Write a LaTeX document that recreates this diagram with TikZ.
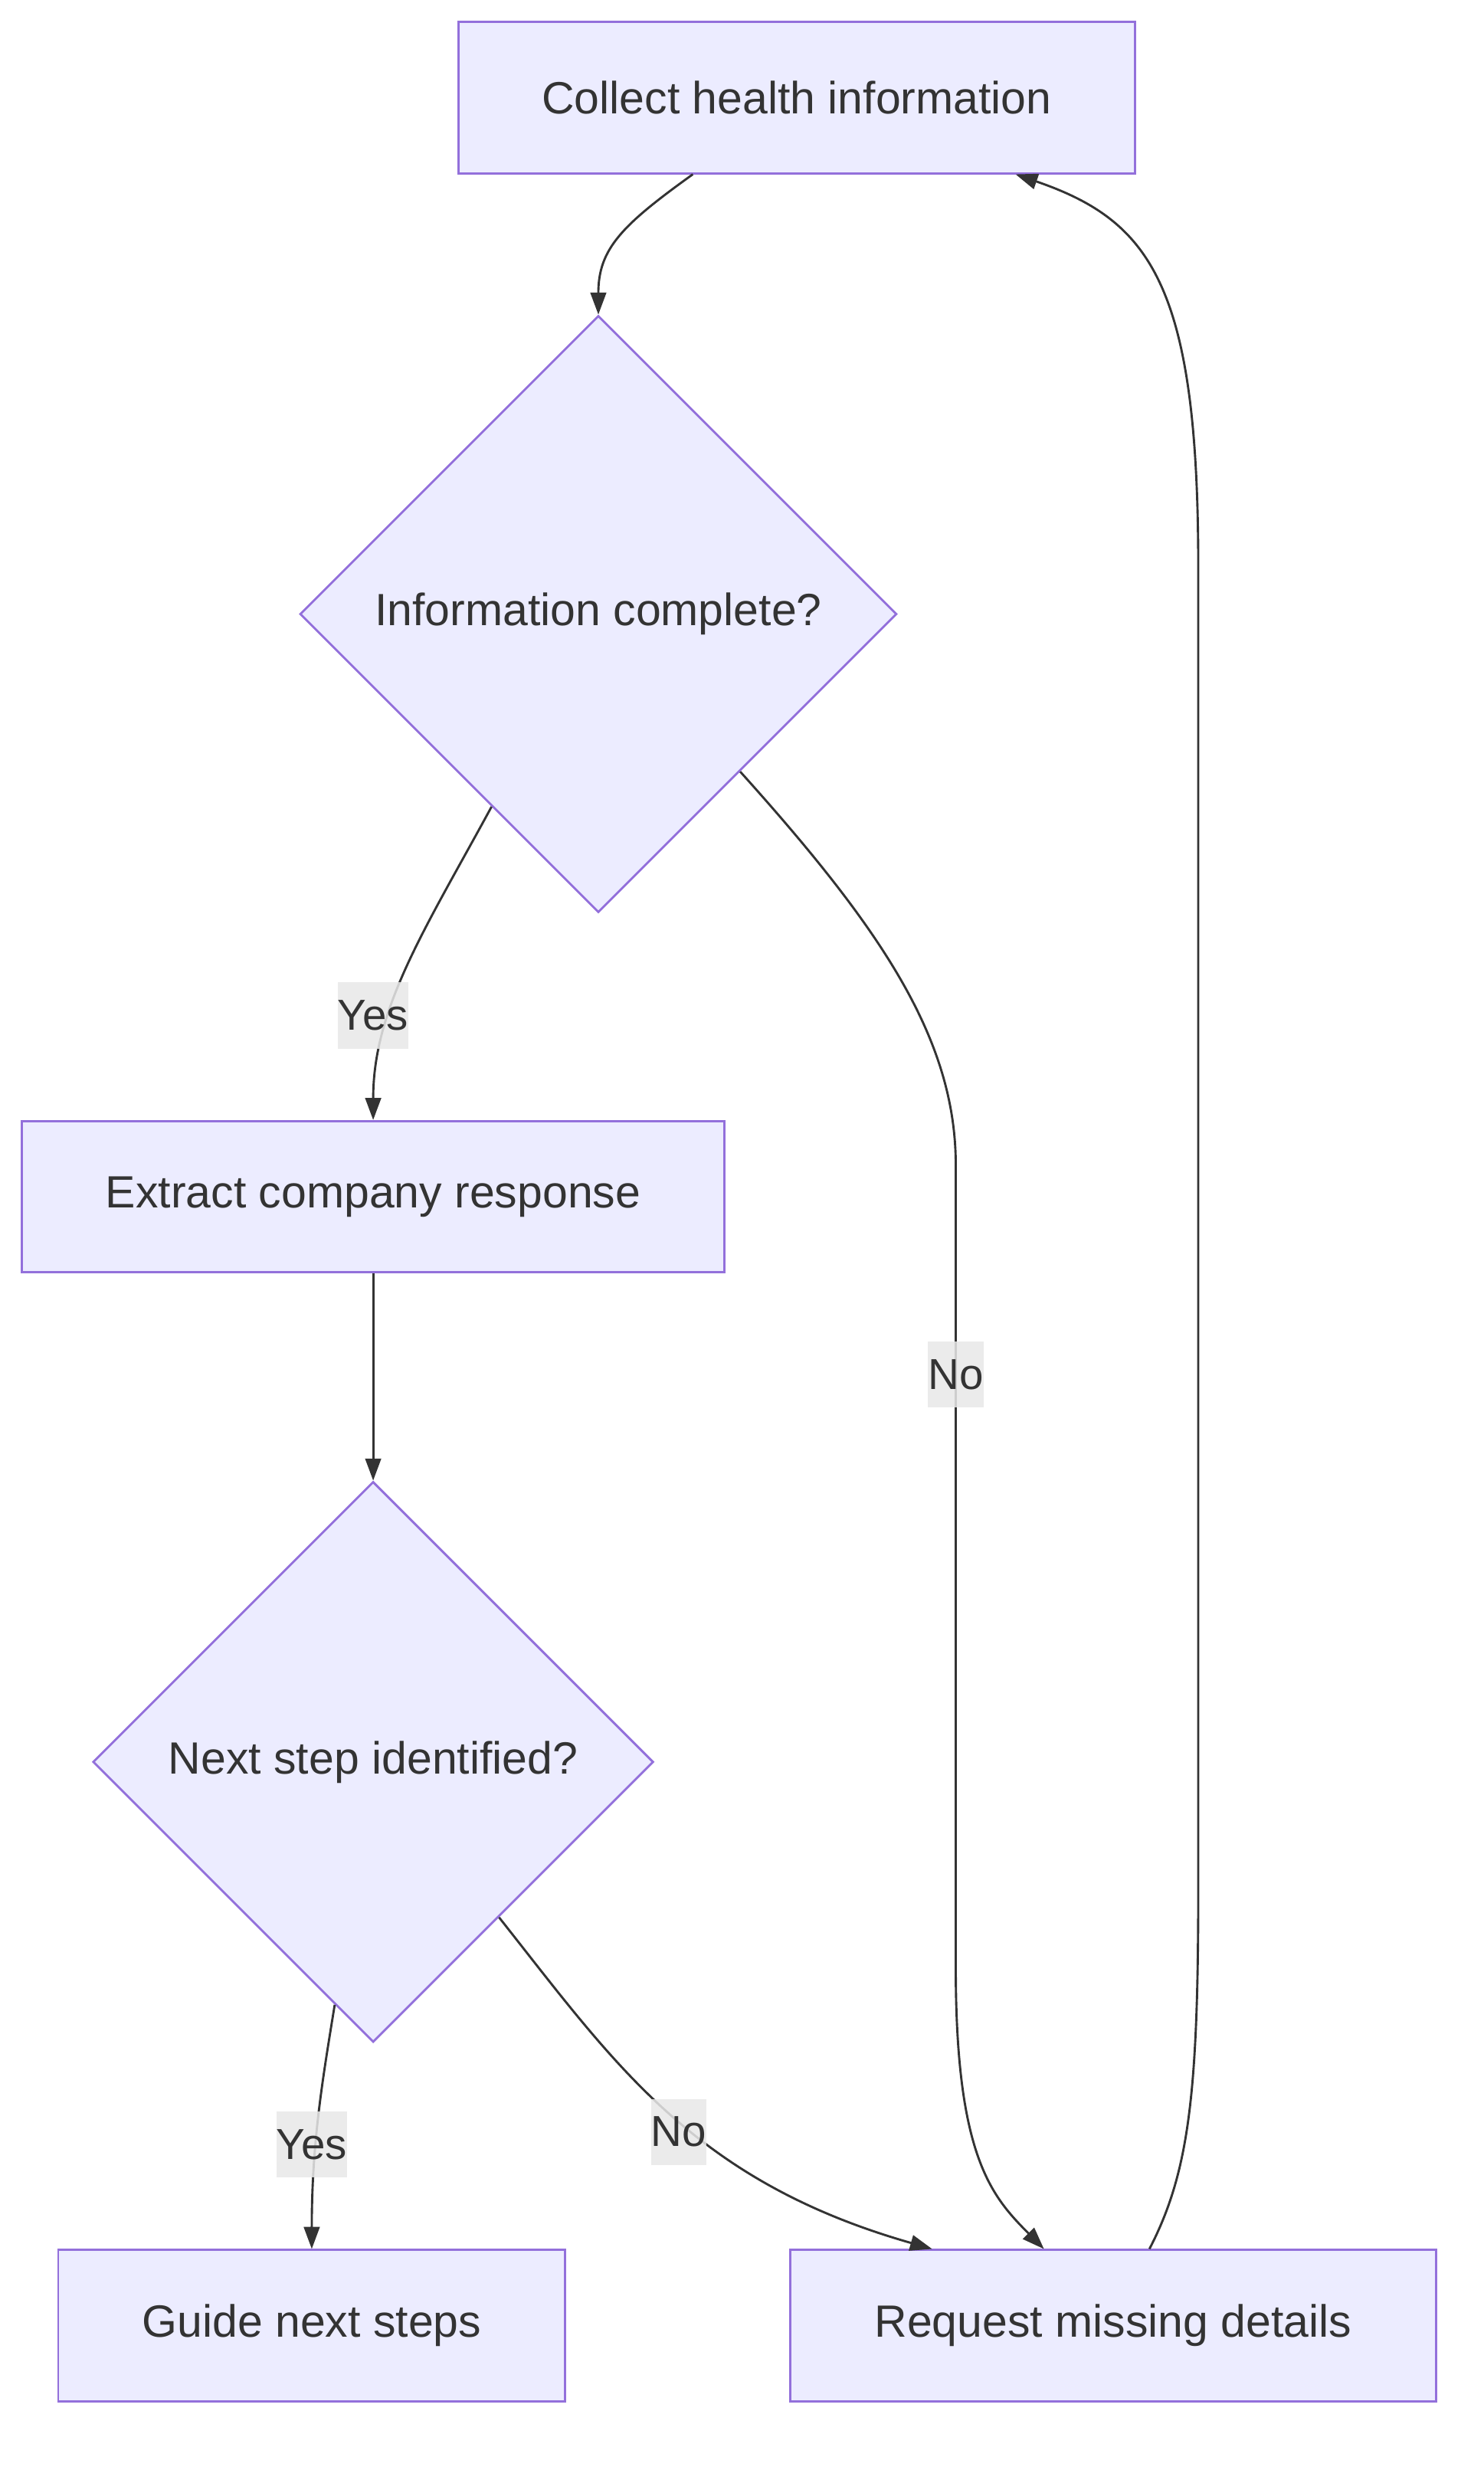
\documentclass[tikz,border=0pt]{standalone}
\usepackage{fontspec}
\setmainfont{Liberation Sans}
\usepackage{xcolor}
\usetikzlibrary{shapes.geometric,arrows.meta,positioning}

\definecolor{boxfill}{HTML}{ECECFF}
\definecolor{boxline}{HTML}{9370DB}
\definecolor{inkgray}{HTML}{333333}
\definecolor{lblgray}{HTML}{E8E8E8}

\begin{document}
\begin{tikzpicture}[
    x=1pt, y=-1pt,
    proc/.style={draw=boxline, fill=boxfill, line width=1.4pt, rectangle, minimum height=96pt, text=inkgray, font=\fontsize{28.7}{34}\selectfont},
    dec/.style={draw=boxline, fill=boxfill, line width=1.4pt, diamond, aspect=1, inner sep=0pt, text=inkgray, font=\fontsize{28.7}{34}\selectfont},
    lbl/.style={fill=lblgray, fill opacity=0.85, text opacity=1, text=inkgray, inner xsep=0pt, inner ysep=0pt, minimum height=42pt, font=\fontsize{27.5}{32}\selectfont},
    edge/.style={draw=inkgray, line width=1.4pt, -{Triangle[length=14pt,width=10pt]}}
]
\useasboundingbox (0,0) rectangle (942,1568.7);

\node[proc, minimum width=430pt] (collect) at (506,62) {Collect health information};
\node[dec, minimum size=379pt] (complete) at (380,390) {Information complete?};
\node[proc, minimum width=446pt] (extract) at (237,760) {Extract company response};
\node[dec, minimum size=356pt] (nextstep) at (237,1119) {Next step identified?};
\node[proc, minimum width=322pt] (guide) at (198,1477) {Guide next steps};
\node[proc, minimum width=410pt] (request) at (707,1477) {Request missing details};

\draw[edge] ([xshift=-66pt]collect.south) .. controls (395,143) and (380,158) .. (complete.north);
\draw[edge] (complete.241) .. controls (270,590) and (237,640) .. (extract.north);
\draw[edge] (complete.312) .. controls (560,590) and (607,660) .. (607,740) -- (607,1250) .. controls (607,1370) and (630,1395) .. ([xshift=-44pt]request.north);
\draw[edge] (extract.south) -- (nextstep.north);
\draw[edge] (nextstep.261) .. controls (205,1320) and (198,1360) .. (guide.north);
\draw[edge] (nextstep.309) .. controls (390,1310) and (440,1385) .. ([xshift=-115pt]request.north);
\draw[edge] ([xshift=23pt]request.north) .. controls (755,1380) and (761,1330) .. (761,1200) -- (761,360) .. controls (761,180) and (730,140) .. ([xshift=139pt]collect.south);

% edge labels
\node[lbl] (yes1) at (237,645) {Yes};
\node[lbl] (no1) at (607,873) {No};
\node[lbl] (yes2) at (198,1362) {Yes};
\node[lbl] (no2) at (431,1354) {No};
\end{tikzpicture}
\end{document}
